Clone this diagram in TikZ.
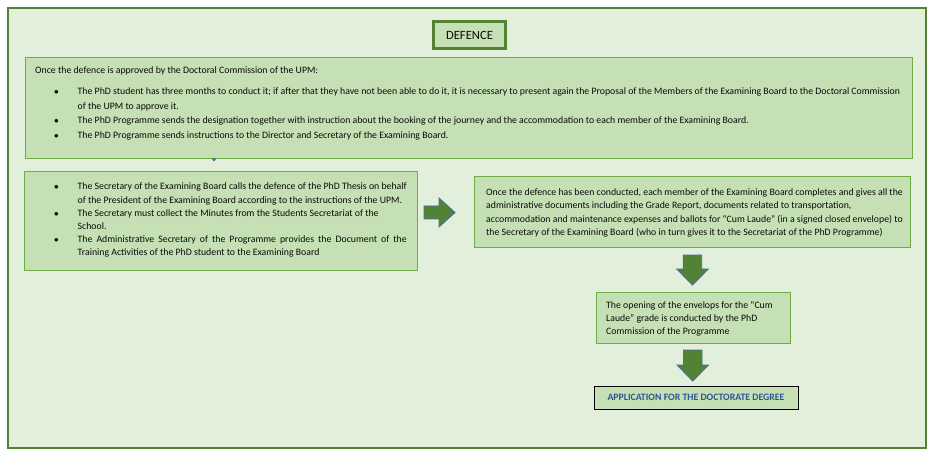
\documentclass[tikz,border=0pt]{standalone}
\usepackage{fontspec}
\setmainfont{Carlito}
\definecolor{bgg}{HTML}{E2EFDA}
\definecolor{boxg}{HTML}{C5E0B4}
\definecolor{edgeg}{HTML}{70AD47}
\definecolor{darkg}{HTML}{548235}
\definecolor{arrb}{HTML}{41719C}
\definecolor{txt}{HTML}{0A0A0A}
\definecolor{bluet}{HTML}{2F5597}
\tikzset{
  px/.style={x=1pt,y=-1pt},
  greenbox/.style={draw=edgeg,fill=boxg,line width=0.9pt},
  txtnode/.style={inner sep=0pt,text=txt,anchor=base west,align=left},
  bigarrow/.style={draw=arrb,fill=darkg,line width=0.9pt,line join=miter},
}
\newcommand{\bul}{\makebox[0pt][r]{\raisebox{0.05ex}{\small$\bullet$}\hspace{19pt}}}
\newcommand{\bodyfont}[1]{\fontsize{9.8}{#1}\selectfont}
\begin{document}
\begin{tikzpicture}[px]
\useasboundingbox (0,0) rectangle (933,454);
% outer frame
\draw[draw=darkg,fill=bgg,line width=2pt] (8,8) rectangle (926,448);
% title
\node[draw=darkg,fill=boxg,line width=2.6pt,minimum width=72pt,minimum height=27pt,inner sep=0pt,font=\fontsize{12.6}{14}\selectfont,text=txt] (title) at (469.5,35) {DEFENCE};
% top box
\node[greenbox,minimum width=887pt,minimum height=101pt,anchor=north west,inner sep=0pt] (topbox) at (25,57) {};
\node[txtnode] (toptext) at (35,73.5) {\bodyfont{12}Once the defence is approved by the Doctoral Commission of the UPM:};
\node[txtnode] (toplist) at (77.5,95) {\parbox[t]{830pt}{\bodyfont{14.5}\setlength{\parindent}{0pt}%
\bul The PhD student has three months to conduct it; if after that they have not been able to do it, it is necessary to present again the Proposal of the Members of the Examining Board to the Doctoral Commission\\ of the UPM to approve it.\\
\bul The PhD Programme sends the designation together with instruction about the booking of the journey and the accommodation to each member of the Examining Board.\\
\bul The PhD Programme sends instructions to the Director and Secretary of the Examining Board.}};
% small marker
\fill[arrb] (211.5,158.5) -- (216.5,158.5) -- (214,161.5) -- cycle;
% left box
\node[greenbox,minimum width=393pt,minimum height=99pt,anchor=north west,inner sep=0pt] (leftbox) at (24,171) {};
\node[txtnode] (lefttext) at (77.5,190) {\parbox[t]{329pt}{\bodyfont{13.2}\setlength{\parindent}{0pt}\setlength{\parfillskip}{0pt plus 1fil}%
\bul The Secretary of the Examining Board calls the defence of the PhD Thesis on behalf\linebreak of the President of the Examining Board according to the instructions of the UPM.\\
\bul The Secretary must collect the Minutes from the Students Secretariat of the\\ School.\\
\bul The Administrative Secretary of the Programme provides the Document of the\linebreak Training Activities of the PhD student to the Examining Board}};
% right box
\node[greenbox,minimum width=436pt,minimum height=71pt,anchor=north west,inner sep=0pt] (rightbox) at (474,176) {};
\node[txtnode] (righttext) at (486,195.5) {\parbox[t]{430pt}{\bodyfont{13.5}\setlength{\parindent}{0pt}%
Once the defence has been conducted, each member of the Examining Board completes and gives all the\\ administrative documents including the Grade Report, documents related to transportation,\\ accommodation and maintenance expenses and ballots for ``Cum Laude'' (in a signed closed envelope) to\\ the Secretary of the Examining Board (who in turn gives it to the Secretariat of the PhD Programme)}};
% box 3
\node[greenbox,minimum width=194pt,minimum height=51pt,anchor=north west,inner sep=0pt] (box3) at (596,292) {};
\node[txtnode] (box3text) at (606,308) {\parbox[t]{180pt}{\bodyfont{13}\setlength{\parindent}{0pt}%
The opening of the envelops for the ``Cum\\ Laude'' grade is conducted by the PhD\\ Commission of the Programme}};
% final box
\node[draw=black,fill=boxg,line width=0.9pt,minimum width=204pt,minimum height=23pt,inner sep=0pt,font=\bfseries\fontsize{9.8}{11}\selectfont,text=bluet] (final) at (696,397.5) {APPLICATION FOR THE DOCTORATE DEGREE};
% block arrows
\draw[bigarrow] (424,206) -- (439,206) -- (439,198) -- (455,212.5) -- (439,227) -- (439,219) -- (424,219) -- cycle;
\draw[bigarrow] (683.3,255) -- (701.7,255) -- (701.7,269) -- (708.3,269) -- (692.5,285) -- (676.7,269) -- (683.3,269) -- cycle;
\draw[bigarrow] (683.5,350) -- (702,350) -- (702,365) -- (708.5,365) -- (692.7,381) -- (677,365) -- (683.5,365) -- cycle;
\end{tikzpicture}
\end{document}
